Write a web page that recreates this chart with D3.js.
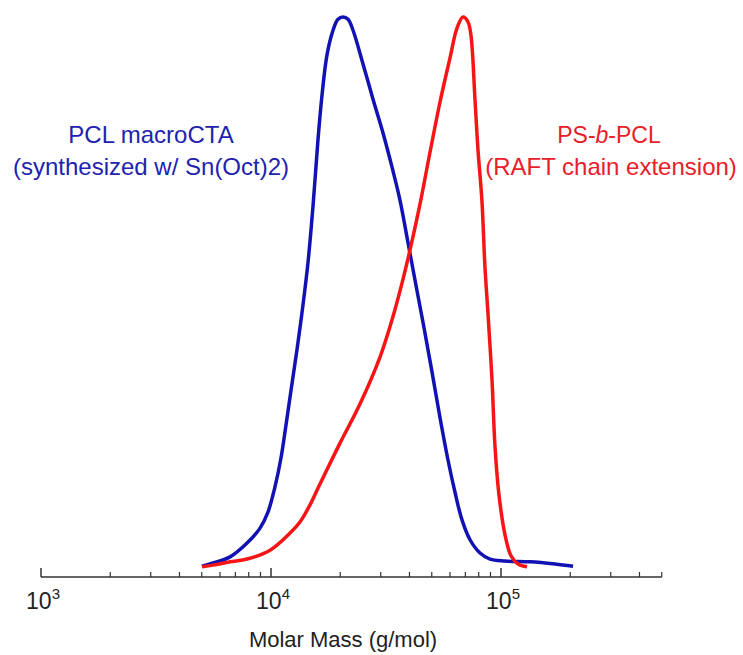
<!DOCTYPE html>
<html>
<head>
<meta charset="utf-8">
<script src="https://cdn.jsdelivr.net/npm/d3@7"></script>
<style>
	body { margin: 0; background: #fff; }
	text { font-family: "Liberation Sans", Arial, sans-serif; }
</style>
</head>
<body>
<div id="graph"></div>
<script>
// molar mass (g/mol) and normalized RI signal
var pclMass = [5010, 5600, 6640, 7870, 8960, 9700, 10410, 11050, 11620, 12220, 12970, 13770, 14490, 15240, 16000, 16670, 17510, 18610, 19550, 20560, 21620, 22730, 25120, 27770, 30690, 33590, 36390, 39420, 42690, 46270, 50120, 54310, 58850, 63100, 67670, 73330, 81050, 89600, 104100, 133700, 171700, 205700];
var pclSignal = [0.005, 0.011, 0.022, 0.047, 0.074, 0.103, 0.149, 0.201, 0.261, 0.324, 0.397, 0.478, 0.556, 0.659, 0.777, 0.859, 0.931, 0.976, 0.996, 1.0, 0.996, 0.976, 0.915, 0.851, 0.790, 0.728, 0.668, 0.591, 0.514, 0.437, 0.357, 0.274, 0.197, 0.139, 0.089, 0.053, 0.029, 0.018, 0.0145, 0.013, 0.009, 0.005];

var blockMass = [5010, 5600, 6640, 7870, 9910, 12100, 13360, 14770, 16330, 19950, 24370, 29780, 33570, 37120, 40220, 44440, 49130, 54310, 60020, 64370, 68390, 71880, 74060, 77090, 79430, 82600, 85170, 87750, 91400, 94200, 98020, 104100, 110500, 118600, 129800];
var blockSignal = [0.004, 0.007, 0.013, 0.018, 0.034, 0.065, 0.085, 0.116, 0.154, 0.228, 0.299, 0.384, 0.451, 0.518, 0.578, 0.661, 0.755, 0.846, 0.926, 0.980, 1.0, 0.991, 0.966, 0.850, 0.759, 0.668, 0.547, 0.464, 0.342, 0.221, 0.134, 0.062, 0.024, 0.009, 0.004];

var majorTicks = [1e3, 1e4, 1e5];
var tickExponents = ["3", "4", "5"];
var minorTicks = [2e3, 3e3, 4e3, 5e3, 6e3, 7e3, 8e3, 9e3, 2e4, 3e4, 4e4, 5e4, 6e4, 7e4, 8e4, 9e4, 2e5, 3e5, 4e5, 5e5];

var pclLabel = ["PCL macroCTA", "(synthesized w/ Sn(Oct)2)"];
var xTitle = "Molar Mass (g/mol)";

var w = 743;
var h = 655;
var axisY = 577;

var xScale = d3.scaleLog()
	.domain([1e3, 5e5])
	.range([41, 41 + Math.log10(500) * 230]);
var yScale = d3.scaleLinear()
	.domain([0, 1])
	.range([569, 17]);

var svg = d3.select("#graph")
	.append("svg")
	.attr("width", w)
	.attr("height", h);

// axis line + ticks pointing up
svg.append("line")
	.attr("x1", xScale(1e3))
	.attr("x2", xScale(5e5))
	.attr("y1", axisY)
	.attr("y2", axisY)
	.attr("stroke", "#333")
	.attr("stroke-width", 1.5);

svg.selectAll(".major")
	.data(majorTicks)
	.enter()
	.append("line")
	.attr("class", "major")
	.attr("x1", function (d) { return xScale(d); })
	.attr("x2", function (d) { return xScale(d); })
	.attr("y1", axisY)
	.attr("y2", axisY - 9)
	.attr("stroke", "#333")
	.attr("stroke-width", 1.5);

svg.selectAll(".minor")
	.data(minorTicks)
	.enter()
	.append("line")
	.attr("class", "minor")
	.attr("x1", function (d) { return xScale(d); })
	.attr("x2", function (d) { return xScale(d); })
	.attr("y1", axisY)
	.attr("y2", axisY - 5)
	.attr("stroke", "#333")
	.attr("stroke-width", 1.2);

var labels = svg.selectAll(".tickLabel")
	.data(majorTicks)
	.enter()
	.append("text")
	.attr("class", "tickLabel")
	.attr("x", function (d) { return xScale(d) + 2; })
	.attr("y", 609)
	.attr("text-anchor", "middle")
	.attr("font-size", 23)
	.attr("fill", "#222")
	.text("10");
labels.append("tspan")
	.attr("dy", -10)
	.attr("font-size", 15)
	.text(function (d, i) { return tickExponents[i]; });

svg.append("text")
	.attr("x", 343)
	.attr("y", 647)
	.attr("text-anchor", "middle")
	.attr("font-size", 22)
	.attr("fill", "#222")
	.text(xTitle);

// the two traces
var line = d3.line()
	.x(function (d) { return xScale(d[0]); })
	.y(function (d) { return yScale(d[1]); })
	.curve(d3.curveCatmullRom.alpha(0.5));

svg.append("path")
	.datum(d3.zip(pclMass, pclSignal))
	.attr("d", line)
	.attr("fill", "none")
	.attr("stroke", "#1212b4")
	.attr("stroke-width", 3.5)
	.attr("stroke-linejoin", "round");

svg.append("path")
	.datum(d3.zip(blockMass, blockSignal))
	.attr("d", line)
	.attr("fill", "none")
	.attr("stroke", "#f51515")
	.attr("stroke-width", 3.5)
	.attr("stroke-linejoin", "round");

// annotations
svg.selectAll(".pclText")
	.data(pclLabel)
	.enter()
	.append("text")
	.attr("class", "pclText")
	.attr("x", 151)
	.attr("y", function (d, i) { return 143 + i * 32; })
	.attr("text-anchor", "middle")
	.attr("font-size", 24)
	.attr("fill", "#2222b0")
	.text(function (d) { return d; });

var red1 = svg.append("text")
	.attr("x", 609)
	.attr("y", 143)
	.attr("text-anchor", "middle")
	.attr("font-size", 23)
	.attr("fill", "#e8202a");
red1.append("tspan").text("PS-");
red1.append("tspan").attr("font-style", "italic").text("b");
red1.append("tspan").text("-PCL");

svg.append("text")
	.attr("x", 611)
	.attr("y", 175)
	.attr("text-anchor", "middle")
	.attr("font-size", 24)
	.attr("fill", "#e8202a")
	.text("(RAFT chain extension)");
</script>
</body>
</html>
